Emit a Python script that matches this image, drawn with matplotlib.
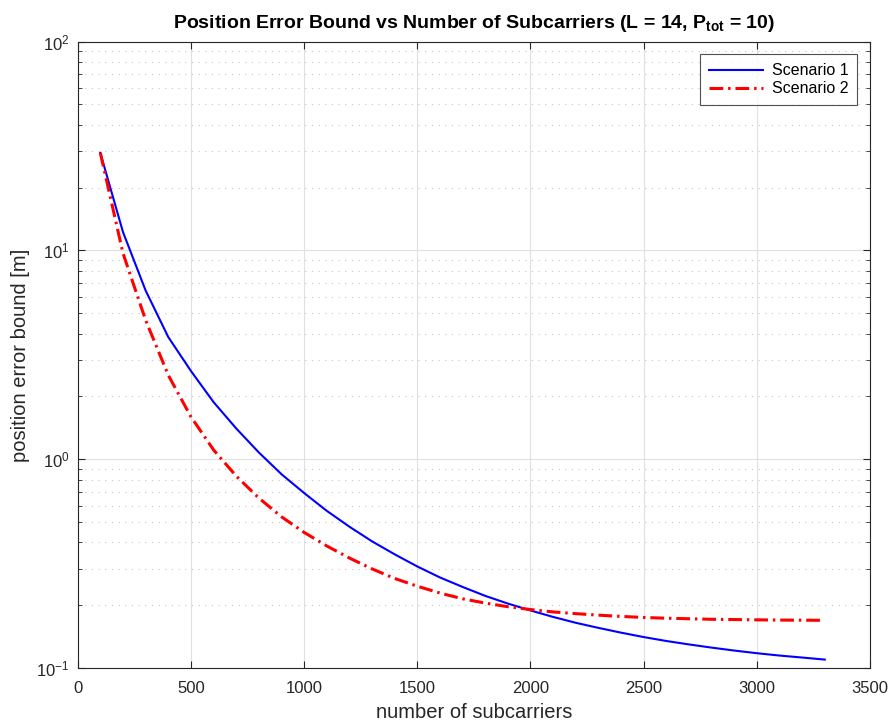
import matplotlib
matplotlib.use("Agg")
import matplotlib.pyplot as plt
from matplotlib.ticker import LogLocator, NullFormatter

plt.rcParams["font.family"] = ["Liberation Sans", "DejaVu Sans"]
plt.rcParams["mathtext.fontset"] = "custom"
plt.rcParams["mathtext.rm"] = "Liberation Sans"
plt.rcParams["mathtext.bf"] = "Liberation Sans:bold"

# ---- data ----
n_sub = [100, 200, 300, 400, 500, 600, 700, 800, 900, 1000,
         1100, 1200, 1300, 1400, 1500, 1600, 1700, 1800, 1900, 2000,
         2100, 2200, 2300, 2400, 2500, 2600, 2700, 2800, 2900, 3000,
         3100, 3200, 3300]

peb_s1 = [29.3, 12.25, 6.43, 3.85, 2.65, 1.88, 1.406, 1.079, 0.849, 0.69,
          0.567, 0.476, 0.405, 0.351, 0.307, 0.272, 0.245, 0.222, 0.204, 0.189,
          0.176, 0.165, 0.156, 0.148, 0.141, 0.135, 0.130, 0.1255, 0.1215, 0.118,
          0.115, 0.1125, 0.110]

peb_s2 = [29.3, 9.7, 4.64, 2.53, 1.60, 1.11, 0.832, 0.653, 0.531, 0.447,
          0.385, 0.337, 0.299, 0.269, 0.247, 0.229, 0.215, 0.205, 0.197, 0.191,
          0.186, 0.1825, 0.1795, 0.177, 0.175, 0.1735, 0.1725, 0.1715, 0.171, 0.1705,
          0.170, 0.1698, 0.1695]

x_ticks = [0, 500, 1000, 1500, 2000, 2500, 3000, 3500]

# ---- figure ----
fig = plt.figure(figsize=(8.91, 7.21), dpi=100, facecolor="white")
ax = fig.add_axes([0.0872, 0.0732, 0.8893, 0.8692])

ax.plot(n_sub, peb_s1, color="#0000ff", linewidth=1.5, label="Scenario 1")
ax.plot(n_sub, peb_s2, color="#ff0000", linewidth=2.2, linestyle=(0, (4.5, 1.6, 0.8, 1.6)),
        label="Scenario 2")

ax.set_yscale("log")
ax.set_xlim(0, 3500)
ax.set_ylim(0.1, 100)
ax.set_xticks(x_ticks)
ax.yaxis.set_major_locator(LogLocator(base=10, numticks=10))
ax.yaxis.set_minor_locator(LogLocator(base=10, subs=range(2, 10), numticks=20))
ax.yaxis.set_minor_formatter(NullFormatter())

ax.grid(True, which="major", color="#e0e0e0", linewidth=0.8, linestyle="-")
ax.grid(True, which="minor", axis="y", color="#c4c4c4", linewidth=0.8, linestyle=(0, (1, 5)))
ax.set_axisbelow(True)

ax.tick_params(which="both", direction="in", top=True, right=True, colors="#262626",
               labelsize=12)
ax.tick_params(axis="x", which="major", pad=9)
ax.tick_params(axis="y", which="major", pad=6)
ax.tick_params(which="major", length=5)
ax.tick_params(which="minor", length=3)
for spine in ax.spines.values():
    spine.set_edgecolor("#262626")
    spine.set_linewidth(0.8)

ax.set_xlabel("number of subcarriers", fontsize=14.5, color="#262626", labelpad=5)
ax.set_ylabel("position error bound [m]", fontsize=14.5, color="#262626", labelpad=4)
ax.set_title(r"Position Error Bound vs Number of Subcarriers (L = 14, P$_{\mathbf{tot}}$ = 10)",
             fontsize=14, fontweight="bold", pad=10)

leg = ax.legend(loc="upper right", fontsize=11.5, frameon=True, fancybox=False,
                edgecolor="#262626", borderaxespad=0.8, handlelength=3.4,
                handletextpad=0.55, borderpad=0.55, labelspacing=0.2)
leg.get_frame().set_linewidth(0.8)

plt.savefig("out.png", dpi=100, facecolor="white")
plt.close(fig)
